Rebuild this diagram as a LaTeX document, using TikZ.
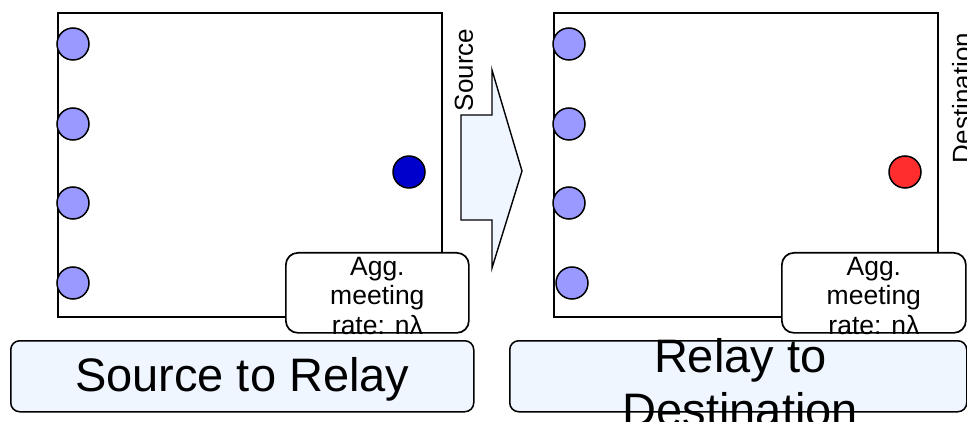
\documentclass[tikz,border=0pt]{standalone}
\usepackage{fontspec}
\setmainfont{Liberation Sans}
\definecolor{relayblue}{RGB}{153,153,255}
\definecolor{srcblue}{RGB}{0,0,204}
\definecolor{dstred}{RGB}{255,45,45}
\definecolor{paleblue}{RGB}{239,246,255}
\begin{document}
\begin{tikzpicture}[x=1pt,y=-1pt,
  panel/.style={draw=black, line width=1.7pt, fill=white, inner sep=0pt, anchor=north west},
  relay/.style={circle, draw=black, line width=1.5pt, fill=relayblue, minimum size=32pt, inner sep=0pt},
  endpoint/.style={circle, draw=black, line width=1.5pt, minimum size=32pt, inner sep=0pt},
  ratebox/.style={draw=black, line width=1.7pt, fill=white, rounded corners=12pt, inner sep=0pt,
    anchor=north west, align=center, font=\fontsize{26.5}{29.5}\selectfont},
  phasebox/.style={draw=black, line width=1.5pt, fill=paleblue, rounded corners=9pt, inner sep=0pt, anchor=north west},
  phaselabel/.style={inner sep=0pt, align=center, font=\fontsize{47}{54}\selectfont},
  sidelabel/.style={inner sep=0pt, rotate=90, font=\fontsize{26}{30}\selectfont},
  hop/.style={draw=black, line width=1.4pt, fill=paleblue, line join=miter}
]
\useasboundingbox (0,0) rectangle (967,422);

% first phase: source to relay
\node[panel, minimum width=384pt, minimum height=304pt] (srcpanel) at (57,12) {};
\foreach \y [count=\i] in {44,124,203,283}
  \node[relay] (sr\i) at (73,\y) {};
\node[endpoint, fill=srcblue] (src) at (409,172) {};

% second phase: relay to destination
\node[panel, minimum width=384pt, minimum height=304pt] (dstpanel) at (553,12) {};
\foreach \y/\x [count=\i] in {44/569,124/569,203/569,283/572}
  \node[relay] (dr\i) at (\x,\y) {};
\node[endpoint, fill=dstred] (dst) at (905,172) {};

% hand-over arrow between the two phases
\draw[hop] (461,115) -- (492,115) -- (492,70) -- (522,171) -- (492,268) -- (492,220) -- (461,220) -- cycle;
\node[sidelabel] (srctag) at (464,70) {Source};
\node[sidelabel] (dsttag) at (961.5,98) {Destination};

% aggregate meeting rate boxes
\node[ratebox, minimum width=183pt, minimum height=80pt] (srcrate) at (285,252) {};
\node[ratebox, minimum width=184pt, minimum height=80pt] (dstrate) at (781,252) {};
\node[ratebox, draw=none, fill=none, anchor=center] (srcratetext) at ([yshift=-3pt]srcrate.center) {Agg.\\meeting\\rate: nλ};
\node[ratebox, draw=none, fill=none, anchor=center] (dstratetext) at ([yshift=-3pt]dstrate.center) {Agg.\\meeting\\rate: nλ};

% phase captions
\node[phasebox, minimum width=463pt, minimum height=71pt] (srccap) at (10,340) {};
\node[phaselabel, anchor=base] (srccaptext) at (srccap.center |- 0,391) {Source to Relay};
\node[phasebox, minimum width=457pt, minimum height=71pt] (dstcap) at (509,340) {};
\node[phaselabel, anchor=north] (dstcaptext) at ([xshift=2pt]dstcap.center |- 0,338) {Relay to\\Destination};
\end{tikzpicture}
\end{document}
